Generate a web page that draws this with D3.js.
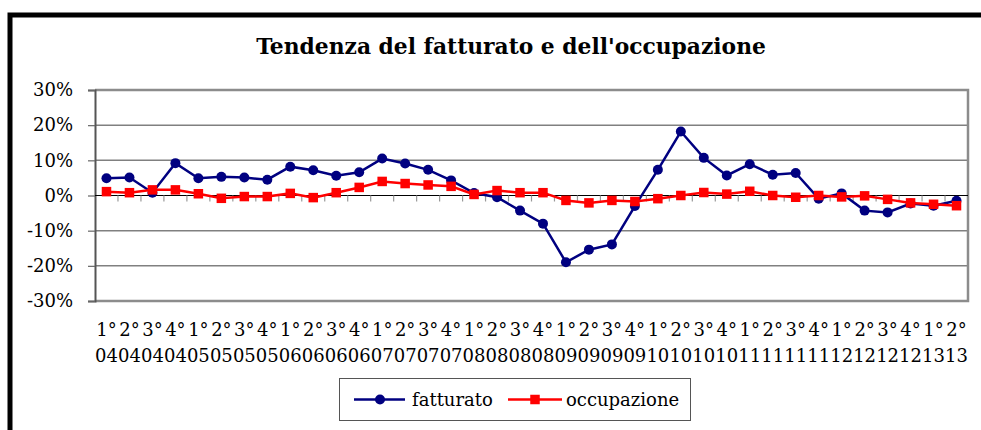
<!DOCTYPE html>
<html>
<head>
<meta charset="utf-8">
<script src="https://cdn.jsdelivr.net/npm/d3@7"></script>
<style>
  body { margin: 0; background: #fff; }
  svg { display: block; }
  text { font-family: "DejaVu Serif", serif; fill: #000; }
</style>
</head>
<body>
<svg id="chart" width="981" height="430"></svg>
<script>
// ---- data ----
const quarters = ["1°","2°","3°","4°","1°","2°","3°","4°","1°","2°","3°","4°","1°","2°","3°","4°","1°","2°","3°","4°","1°","2°","3°","4°","1°","2°","3°","4°","1°","2°","3°","4°","1°","2°","3°","4°","1°","2°"];
const years = ["04","04","04","04","05","05","05","05","06","06","06","06","07","07","07","07","08","08","08","08","09","09","09","09","10","10","10","10","11","11","11","11","12","12","12","12","13","13"];
const fatturato = [4.9,5.1,0.8,9.2,4.9,5.3,5.1,4.5,8.2,7.2,5.6,6.6,10.5,9.1,7.3,4.3,0.7,-0.5,-4.3,-8.0,-19.0,-15.4,-13.9,-3.0,7.3,18.2,10.7,5.7,8.9,5.9,6.4,-0.9,0.6,-4.3,-4.8,-2.3,-2.9,-1.5];
const occupazione = [1.1,0.8,1.6,1.6,0.5,-0.8,-0.3,-0.3,0.6,-0.6,0.8,2.3,4.0,3.4,3.0,2.6,0.3,1.4,0.8,0.8,-1.4,-2.1,-1.4,-1.7,-0.9,0.0,0.85,0.4,1.2,0.0,-0.5,0.0,-0.4,-0.1,-1.1,-2.1,-2.5,-2.9];
const yTicks = [-30,-20,-10,0,10,20,30];
const seriesNames = ["fatturato","occupazione"];
const title = "Tendenza del fatturato e dell'occupazione";

// ---- layout ----
const svg = d3.select("#chart");
const L = 95, R = 968, T = 90, B = 301;
const idx = d3.range(fatturato.length);
const x = d3.scaleBand().domain(idx).range([L, R]).padding(0);
const cx = i => x(i) + x.bandwidth() / 2;
const y = d3.scaleLinear().domain([-30, 30]).range([B, T]);

svg.append("rect").attr("width", 981).attr("height", 430).attr("fill", "#fff");
// outer chart border
svg.append("rect").attr("x", 10).attr("y", 15).attr("width", 1100).attr("height", 600)
  .attr("fill", "none").attr("stroke", "#000").attr("stroke-width", 5);

// title
svg.append("text").attr("x", 511).attr("y", 54).attr("text-anchor", "middle")
  .attr("font-weight", "bold").attr("font-size", 21.8).text(title);

// gridlines
svg.append("g").selectAll("line").data(yTicks.filter(d => d !== 0 && Math.abs(d) !== 30)).join("line")
  .attr("x1", L).attr("x2", R).attr("y1", d => y(d)).attr("y2", d => y(d))
  .attr("stroke", "#808080").attr("stroke-width", 1.5);

// plot border
svg.append("path").attr("d", `M${L},${T}H${R}V${B}H${L}`).attr("fill", "none")
  .attr("stroke", "#8c8c8c").attr("stroke-width", 2.5);

// y axis
const yAxis = d3.axisLeft(y).tickValues(yTicks).tickSize(7).tickFormat(d => d + "%");
const gy = svg.append("g").attr("transform", `translate(${L},0)`).call(yAxis);
gy.select(".domain").attr("stroke", "#555").attr("stroke-width", 2);
gy.selectAll(".tick line").attr("stroke", "#666").attr("stroke-width", 1.2);
gy.selectAll(".tick text").attr("x", -22).attr("font-family", "DejaVu Serif").attr("font-size", 18).attr("fill", "#000");

// x axis on zero line
const gx = svg.append("g").attr("transform", `translate(0,${y(0)})`);
gx.append("line").attr("x1", L).attr("x2", R).attr("stroke", "#000").attr("stroke-width", 1.2);
gx.selectAll("line.tk").data(d3.range(1, idx.length)).join("line").attr("class", "tk")
  .attr("x1", i => x(i)).attr("x2", i => x(i)).attr("y1", 0).attr("y2", 6)
  .attr("stroke", "#999").attr("stroke-width", 1.2);

// x labels
const lab = svg.append("g").selectAll("text").data(idx).join("text")
  .attr("text-anchor", "middle").attr("font-size", 18);
lab.append("tspan").attr("x", i => cx(i)).attr("y", 336).text(i => quarters[i]);
lab.append("tspan").attr("x", i => cx(i)).attr("y", 362).text(i => years[i]);

// series
const line = d3.line().x((d, i) => cx(i)).y(d => y(d));
svg.append("path").datum(fatturato).attr("d", line).attr("fill", "none")
  .attr("stroke", "#000080").attr("stroke-width", 2.5);
svg.append("g").selectAll("circle").data(fatturato).join("circle")
  .attr("cx", (d, i) => cx(i)).attr("cy", d => y(d)).attr("r", 5).attr("fill", "#000080");

svg.append("path").datum(occupazione).attr("d", line).attr("fill", "none")
  .attr("stroke", "#ff0000").attr("stroke-width", 2.5);
const sq = 9.5;
svg.append("g").selectAll("rect").data(occupazione).join("rect")
  .attr("x", (d, i) => cx(i) - sq / 2).attr("y", d => y(d) - sq / 2)
  .attr("width", sq).attr("height", sq).attr("fill", "#ff0000");

// legend
const lg = svg.append("g");
lg.append("rect").attr("x", 339.5).attr("y", 378.5).attr("width", 351).attr("height", 42)
  .attr("fill", "#fff").attr("stroke", "#555").attr("stroke-width", 1);
const ly = 399.5;
lg.append("line").attr("x1", 354).attr("x2", 405).attr("y1", ly).attr("y2", ly).attr("stroke", "#000080").attr("stroke-width", 2.5);
lg.append("circle").attr("cx", 380).attr("cy", ly).attr("r", 5).attr("fill", "#000080");
lg.append("text").attr("x", 412).attr("y", 406).attr("font-size", 18).text(seriesNames[0]);
lg.append("line").attr("x1", 508).attr("x2", 562).attr("y1", ly).attr("y2", ly).attr("stroke", "#ff0000").attr("stroke-width", 2.5);
lg.append("rect").attr("x", 535 - sq / 2).attr("y", ly - sq / 2).attr("width", sq).attr("height", sq).attr("fill", "#ff0000");
lg.append("text").attr("x", 566).attr("y", 406).attr("font-size", 18).text(seriesNames[1]);
</script>
</body>
</html>
